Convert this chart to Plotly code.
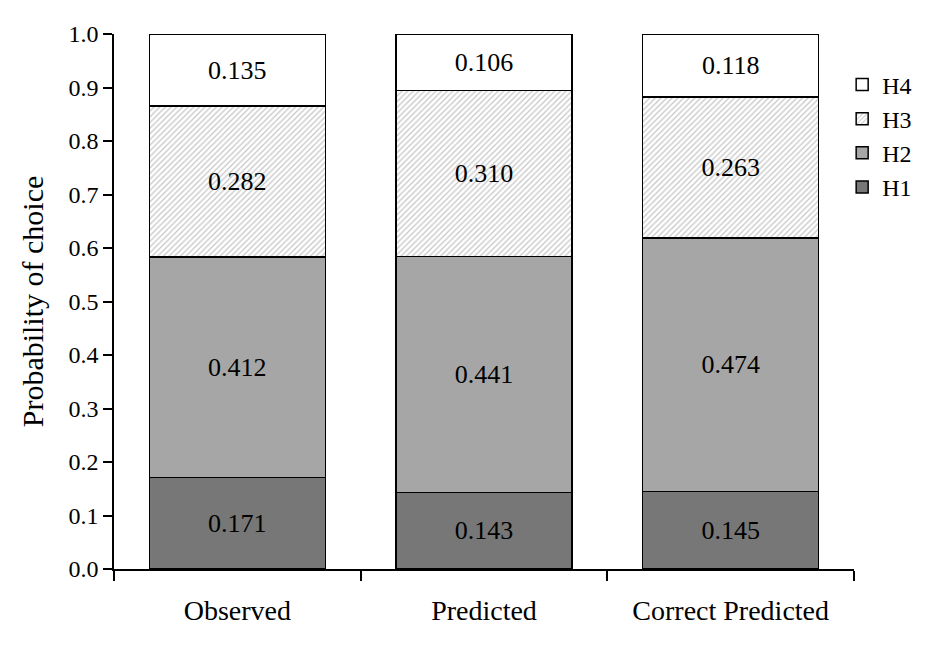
import plotly.graph_objects as go

# categories and the choice probabilities per stack segment
categories = ["Observed", "Predicted", "Correct Predicted"]
h1 = [0.171, 0.143, 0.145]
h2 = [0.412, 0.441, 0.474]
h3 = [0.282, 0.310, 0.263]
h4 = [0.135, 0.106, 0.118]

y_ticks = [0.0, 0.1, 0.2, 0.3, 0.4, 0.5, 0.6, 0.7, 0.8, 0.9, 1.0]

FONT = "Liberation Serif, Times New Roman, serif"

series = [
    ("H1", h1, dict(color="#777777")),
    ("H2", h2, dict(color="#a6a6a6")),
    ("H3", h3, dict(color="white",
                    pattern=dict(shape="/", fgcolor="#8c8c8c", bgcolor="white",
                                 size=4, solidity=0.3))),
    ("H4", h4, dict(color="white")),
]

fig = go.Figure()
for name, vals, mk in series:
    fig.add_trace(go.Bar(
        name=name,
        x=categories,
        y=vals,
        marker=dict(line=dict(color="black", width=1.5), **mk),
        texttemplate="%{y:.3f}",
        textposition="inside",
        insidetextanchor="middle",
        textangle=0,
        textfont=dict(family=FONT, size=26, color="black"),
        constraintext="none",
        hovertemplate="%{x}<br>" + name + ": %{y:.3f}<extra></extra>",
    ))

# the page puts the figure 8px in from the top left, margins allow for that
fig.update_layout(
    barmode="stack",
    bargap=0.287,
    width=945,
    height=648,
    margin=dict(l=106, r=99, t=26, b=87),
    paper_bgcolor="white",
    plot_bgcolor="white",
    font=dict(family=FONT, size=24, color="black"),
    showlegend=True,
    legend=dict(
        x=0.984, y=0.947, xanchor="left", yanchor="top",
        traceorder="reversed",
        font=dict(family=FONT, size=24),
        itemwidth=30,
        tracegroupgap=0,
        bgcolor="rgba(0,0,0,0)",
    ),
    xaxis=dict(
        showline=True, linecolor="black", linewidth=1.5,
        ticks="outside", tickson="boundaries", ticklen=10, tickcolor="black", tickwidth=1.5,
        tickfont=dict(family=FONT, size=28),
        ticklabelstandoff=16,
        showgrid=False, zeroline=False,
    ),
    yaxis=dict(
        range=[0, 1],
        tickvals=y_ticks,
        tickformat=".1f",
        showline=True, linecolor="black", linewidth=1.5,
        ticks="outside", ticklen=9, tickcolor="black", tickwidth=1.5,
        tickfont=dict(family=FONT, size=24),
        showgrid=False, zeroline=False,
        title=dict(text="Probability of choice", font=dict(family=FONT, size=30), standoff=16),
    ),
)

fig.write_html("out.html")
